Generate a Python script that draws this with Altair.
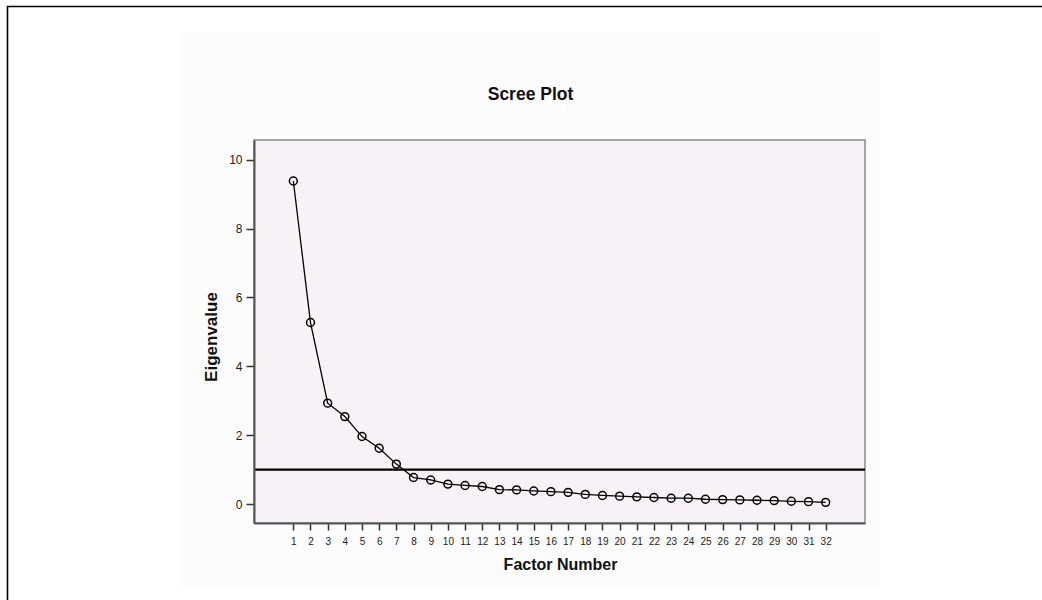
import altair as alt
import pandas as pd

# ---- data ----
factor_number = list(range(1, 33))
eigenvalue = [9.38, 5.27, 2.93, 2.54, 1.96, 1.62, 1.16, 0.77, 0.70, 0.58,
              0.54, 0.51, 0.42, 0.41, 0.38, 0.36, 0.34, 0.28, 0.25, 0.23,
              0.21, 0.19, 0.17, 0.17, 0.14, 0.13, 0.12, 0.11, 0.10, 0.08,
              0.07, 0.05]
reference_value = [1.0]
y_ticks = [0, 2, 4, 6, 8, 10]

df = pd.DataFrame({"factor": factor_number, "eig": eigenvalue})
ref_df = pd.DataFrame({"y": reference_value})
one = pd.DataFrame({"a": [0]})

W, H = 611, 383
PAD_L, PAD_T = 254, 140

x_scale = alt.Scale(domain=[-1.29, 34.29], nice=False, zero=False)
y_scale = alt.Scale(domain=[-0.55, 10.57], nice=False, zero=False)

FONT = "Liberation Sans"

# light outer panel
panel = alt.Chart(one).mark_rect(color="#fcfcfc").encode(
    x=alt.value(-74), x2=alt.value(626), y=alt.value(-108), y2=alt.value(447)
)
# plot-area background with its border
plot_bg = alt.Chart(one).mark_rect(fill="#f6f2f6", stroke="#8a8a8a", strokeWidth=1.5).encode(
    x=alt.value(0), x2=alt.value(W), y=alt.value(0), y2=alt.value(H)
)

# frame lines of the page
frame_top = alt.Chart(one).mark_rule(color="black", strokeWidth=1.6).encode(
    x=alt.value(-247), x2=alt.value(1042 - PAD_L), y=alt.value(6.5 - PAD_T)
)
frame_left = alt.Chart(one).mark_rule(color="black", strokeWidth=1.6).encode(
    x=alt.value(7.5 - PAD_L), y=alt.value(6 - PAD_T), y2=alt.value(600 - PAD_T)
)

title = alt.Chart(one).mark_text(
    text="Scree Plot", font=FONT, fontSize=17.5, fontWeight="bold",
    color="#111", align="center", baseline="middle"
).encode(x=alt.value(530.5 - PAD_L), y=alt.value(95 - PAD_T))

x_axis = alt.Axis(
    title="Factor Number", values=factor_number, grid=False, zindex=2,
    labelFont=FONT, labelFontSize=10, labelColor="#222",
    labelOverlap=False, labelFlush=False, labelSeparation=0,
    labelPadding=6, tickSize=7, tickColor="#333", tickWidth=1.5,
    domainColor="#555", domainWidth=2,
    titleFont=FONT, titleFontSize=16, titleFontWeight="bold", titleColor="#111",
    titleX=W / 2 + 0.5, titleY=41, titleBaseline="middle", titleAlign="center",
)
y_axis = alt.Axis(
    title="Eigenvalue", values=y_ticks, grid=False, zindex=2,
    labelFont=FONT, labelFontSize=12, labelColor="#222",
    labelOverlap=False,
    labelPadding=4, tickSize=8, tickColor="#333", tickWidth=1.5,
    domainColor="#555", domainWidth=2,
    titleFont=FONT, titleFontSize=17, titleFontWeight="bold", titleColor="#111",
    titleX=-43, titleY=336.5 - PAD_T, titleBaseline="middle", titleAlign="center",
    titleAngle=270,
)

line = alt.Chart(df).mark_line(color="black", strokeWidth=1.3).encode(
    x=alt.X("factor:Q", scale=x_scale, axis=x_axis),
    y=alt.Y("eig:Q", scale=y_scale, axis=y_axis),
)
points = alt.Chart(df).mark_point(
    shape="circle", filled=False, color="black", size=62, strokeWidth=1.5, opacity=1
).encode(
    x=alt.X("factor:Q", scale=x_scale, axis=x_axis),
    y=alt.Y("eig:Q", scale=y_scale, axis=y_axis),
)
ref = alt.Chart(ref_df).mark_rule(color="black", strokeWidth=2.2).encode(
    y=alt.Y("y:Q", scale=y_scale, axis=y_axis)
)

chart = alt.layer(panel, plot_bg, frame_top, frame_left, title, line, ref, points).properties(
    width=W, height=H,
    autosize=alt.AutoSizeParams(type="none"),
    padding={"left": PAD_L, "top": PAD_T, "right": 1042 - PAD_L - W, "bottom": 600 - PAD_T - H},
    background="white",
).configure_view(
    stroke=None
).configure_axis(
    labelOverlap=False
)

chart.save("out.html", embed_options={"renderer": "svg", "actions": False})
